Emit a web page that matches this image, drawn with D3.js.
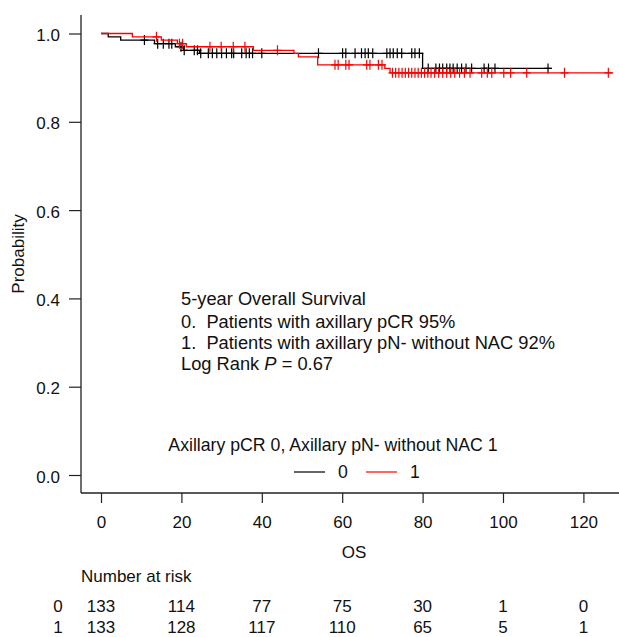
<!DOCTYPE html>
<html lang="en">
<head>
    <meta charset="UTF-8">
    <title>OS Kaplan-Meier</title>
    <script src="https://d3js.org/d3.v7.min.js"></script>
    <style type="text/css">
        body {
            margin: 0;
            background-color: #ffffff;
        }

        text {
            font-family: "Liberation Sans", Arial, sans-serif;
            font-size: 17px;
            fill: #111;
        }

        .note text {
            font-size: 18.3px;
        }

        .legend-title {
            font-size: 17.7px;
        }

        .axis path, .axis line {
            stroke: #222;
            stroke-width: 1.2px;
        }

        .frame {
            stroke: #222;
            stroke-width: 1.3px;
        }

        .km {
            fill: none;
            stroke-width: 1.3px;
        }
    </style>
</head>
<body>
    <script type="text/javascript">
        //CONSTANTS & GLOBALS
        const width = 619;
        const height = 637;

        //DATA - step times and survival
        const os0Times = [0, 1.8, 4.9, 13.3, 18.5, 20.5, 24.5, 80.0];
        const os0Surv = [1, 0.9925, 0.985, 0.977, 0.970, 0.962, 0.955, 0.921];
        const os0End = 112;
        const os0Censor = [10.8, 14.1, 15.5, 16.9, 17.6, 19.9, 20.7, 23.2, 24.0, 24.8, 26.7, 27.7, 28.8,
            30.0, 31.2, 32.5, 33.0, 35.0, 36.1, 36.9, 37.7, 40.0, 54.1, 60.1, 60.9, 63.2, 64.8, 65.7,
            66.5, 67.6, 71.1, 71.9, 72.7, 73.7, 74.8, 77.3, 78.1, 79.2, 81.4, 83.3, 84.2, 85.0, 86.0,
            86.8, 87.6, 88.6, 89.7, 90.8, 92.2, 95.3, 96.4, 98.0, 111.2];

        const os1Times = [0, 7.8, 15.0, 19.0, 21.2, 37.9, 48.0, 49.1, 53.9, 70.6, 71.9];
        const os1Surv = [1, 0.9925, 0.985, 0.977, 0.970, 0.962, 0.955, 0.947, 0.929, 0.921, 0.911];
        const os1End = 127.4;
        const os1Censor = [13.8, 19.5, 20.3, 27.1, 29.9, 32.9, 35.8, 43.9, 58.2, 59.0, 60.9, 61.7,
            66.1, 66.9, 69.0, 69.9, 72.5, 73.3, 74.1, 74.9, 75.7, 76.5, 77.3, 78.1, 78.9, 79.7, 80.5,
            81.3, 82.1, 83.0, 84.0, 85.0, 86.0, 87.0, 88.0, 89.2, 90.4, 91.8, 94.7, 96.1, 97.2, 100.2,
            101.9, 105.9, 115.3, 126.2];

        const xTicks = [0, 20, 40, 60, 80, 100, 120];
        const yTicks = [0, 0.2, 0.4, 0.6, 0.8, 1.0];
        const riskTimes = [0, 20, 40, 60, 80, 100, 120];
        const risk0 = [133, 114, 77, 75, 30, 1, 0];
        const risk1 = [133, 128, 117, 110, 65, 5, 1];
        const groupNames = ["0", "1"];
        const groupColors = ["#000000", "#ff0000"];

        //SCALES
        const xScale = d3.scaleLinear()
            .domain([0, 120])
            .range([101, 583.4]);

        const yScale = d3.scaleLinear()
            .domain([0, 1])
            .range([475, 33.5]);

        //CREATE SVG
        const svg = d3.select("body")
            .append("svg")
            .attr("width", width)
            .attr("height", height);

        //FRAME (left + bottom, like bty="L")
        svg.append("line").attr("class", "frame")
            .attr("x1", 81).attr("x2", 81).attr("y1", 15).attr("y2", 493);
        svg.append("line").attr("class", "frame")
            .attr("x1", 81).attr("x2", width).attr("y1", 493).attr("y2", 493);

        //Y-AXIS
        const yAxis = d3.axisLeft(yScale)
            .tickValues(yTicks)
            .tickFormat(d3.format(".1f"))
            .tickSizeOuter(0)
            .tickSize(12)
            .tickPadding(9);

        const gy = svg.append("g")
            .attr("class", "axis")
            .attr("transform", "translate(81,0)")
            .call(yAxis);
        gy.select(".domain").remove();
        gy.selectAll("text").attr("dy", "0.42em");

        //X-AXIS
        const xAxis = d3.axisBottom(xScale)
            .tickValues(xTicks)
            .tickSizeOuter(0)
            .tickSize(10)
            .tickPadding(20);

        const gx = svg.append("g")
            .attr("class", "axis")
            .attr("transform", "translate(0,493)")
            .call(xAxis);
        gx.select(".domain").remove();
        gx.selectAll("text").attr("dy", "0.3em");

        //KM CURVES
        const line = d3.line()
            .curve(d3.curveStepAfter)
            .x(d => xScale(d[0]))
            .y(d => yScale(d[1]));

        function survAt(times, surv, t) {
            let s = surv[0];
            times.forEach((tt, i) => { if (tt <= t) s = surv[i]; });
            return s;
        }

        const groups = [
            { times: os0Times, surv: os0Surv, end: os0End, censor: os0Censor },
            { times: os1Times, surv: os1Surv, end: os1End, censor: os1Censor }
        ];

        groups.forEach((g, gi) => {
            const pts = g.times.map((t, i) => [t, g.surv[i]]);
            pts.push([g.end, g.surv[g.surv.length - 1]]);

            svg.append("path")
                .attr("class", "km")
                .attr("stroke", groupColors[gi])
                .attr("d", line(pts));

            //censor marks (+)
            svg.append("g")
                .selectAll("path")
                .data(g.censor)
                .join("path")
                .attr("fill", "none")
                .attr("stroke", groupColors[gi])
                .attr("stroke-width", 1.2)
                .attr("d", t => {
                    const cx = xScale(t);
                    const cy = yScale(survAt(g.times, g.surv, t));
                    return `M${cx},${cy - 5}V${cy + 5}M${cx - 4},${cy}H${cx + 4}`;
                });
        });

        //ANNOTATION
        const note = svg.append("g").attr("class", "note").attr("transform", "translate(181,0)");
        note.append("text").attr("y", 305).text("5-year Overall Survival");
        note.append("text").attr("y", 327.5).style("white-space", "pre")
            .text("0.  Patients with axillary pCR 95%");
        note.append("text").attr("y", 349).style("white-space", "pre")
            .text("1.  Patients with axillary pN- without NAC 92%");
        const lr = note.append("text").attr("y", 369.5);
        lr.append("tspan").text("Log Rank ");
        lr.append("tspan").style("font-style", "italic").text("P");
        lr.append("tspan").text(" = 0.67");

        //LEGEND
        svg.append("text")
            .attr("class", "legend-title")
            .attr("x", 333)
            .attr("y", 451)
            .attr("text-anchor", "middle")
            .text("Axillary pCR 0, Axillary pN- without NAC 1");

        const legX = [294, 366];
        groupNames.forEach((name, i) => {
            svg.append("line")
                .attr("x1", legX[i]).attr("x2", legX[i] + 31)
                .attr("y1", 472).attr("y2", 472)
                .attr("stroke", groupColors[i])
                .attr("stroke-width", 1.2);
            svg.append("text")
                .attr("x", legX[i] + 49)
                .attr("y", 478)
                .attr("text-anchor", "middle")
                .style("font-size", "17.7px")
                .text(name);
        });

        //X-AXIS LABEL
        svg.append("text")
            .attr("x", 354)
            .attr("y", 558)
            .attr("text-anchor", "middle")
            .text("OS");

        //Y-AXIS LABEL
        svg.append("text")
            .attr("transform", "rotate(-90)")
            .attr("x", -254)
            .attr("y", 24)
            .attr("text-anchor", "middle")
            .text("Probability");

        //NUMBER AT RISK
        svg.append("text")
            .attr("x", 81)
            .attr("y", 582)
            .text("Number at risk");

        [risk0, risk1].forEach((row, ri) => {
            const yRow = 612 + ri * 21;
            svg.append("text")
                .attr("x", 58)
                .attr("y", yRow)
                .attr("text-anchor", "middle")
                .text(groupNames[ri]);
            svg.append("g")
                .selectAll("text")
                .data(row)
                .join("text")
                .attr("x", (d, i) => xScale(riskTimes[i]))
                .attr("y", yRow)
                .attr("text-anchor", "middle")
                .text(d => d);
        });
    </script>
</body>
</html>
